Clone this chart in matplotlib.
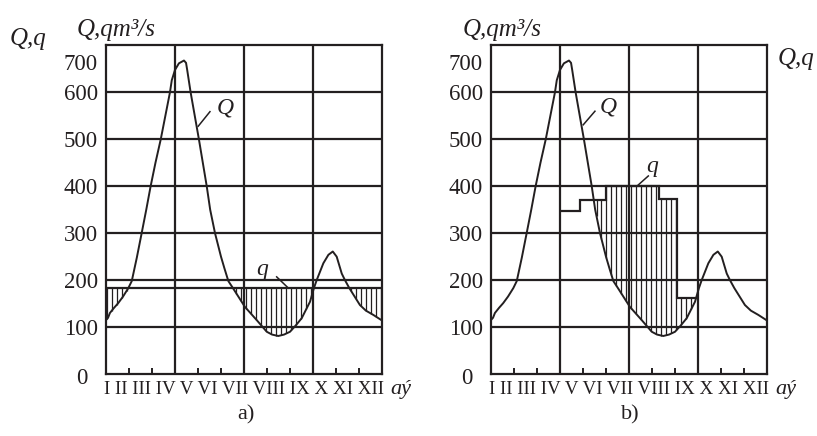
import numpy as np
import matplotlib
matplotlib.use("Agg")
import matplotlib.pyplot as plt
from matplotlib.transforms import offset_copy

# Hydrograph of river discharge Q (m^3/s); position in months from the start of the year
flow_month = [0.0, 0.09, 0.17, 0.35, 0.53, 0.74, 0.97, 1.12, 1.34, 1.55, 1.75, 1.94,
              2.15, 2.38, 2.58, 2.78, 2.86, 3.0, 3.17, 3.39, 3.48, 3.53, 3.68, 4.04,
              4.38, 4.53, 4.74, 5.0, 5.15, 5.32, 5.52, 6.04, 6.55, 6.99, 7.22, 7.49,
              7.74, 8.0, 8.26, 8.51, 8.87, 9.04, 9.16, 9.45, 9.67, 9.86, 10.03, 10.25,
              10.39, 10.58, 11.04, 11.3, 11.62, 12.0]
flow_value = [115, 120, 130, 141, 151, 165, 183, 198, 248, 300, 350, 400,
              450, 500, 550, 600, 626, 648, 662, 668, 663, 648, 600, 500,
              400, 350, 300, 250, 225, 198, 183, 143, 115, 90, 84, 81,
              84, 90, 104, 119, 154, 183, 200, 236, 254, 261, 250, 214,
              200, 183, 147, 135, 126, 114]

months = ["I", "II", "III", "IV", "V", "VI", "VII", "VIII", "IX", "X", "XI", "XII"]
y_values = [0, 100, 200, 300, 400, 500, 600, 700]

# a) constant withdrawal
uniform_draw = 182.6
# b) withdrawal varying by period
step_edges = [3.0, 3.87, 5.0, 7.3, 8.08, 8.95]
step_draw = [347, 370, 400, 372, 162]

INK = "#231f20"
W, H = 817, 436
PX = 72.0 / 100.0  # points per pixel

plt.rcParams["font.family"] = ["Liberation Serif", "DejaVu Serif"]

fig = plt.figure(figsize=(W / 100, H / 100), dpi=100)
fig.patch.set_facecolor("white")

AX_BOTTOM, AX_TOP = 374, 45.5
hatch_x = np.arange(0.03, 12, 0.217)
flow_at_hatch = np.interp(hatch_x, flow_month, flow_value)


def make_panel(left_px):
    ax = fig.add_axes([left_px / W, 1 - AX_BOTTOM / H, 276 / W, (AX_BOTTOM - AX_TOP) / H])
    ax.set_xlim(0, 12)
    ax.set_ylim(0, 700)
    for sp in ax.spines.values():
        sp.set_linewidth(1.6)
        sp.set_color(INK)
    for v in y_values[1:-1]:
        ax.axhline(v, color=INK, lw=1.6, zorder=1)
    for m in (3, 6, 9):
        ax.axvline(m, color=INK, lw=1.6, zorder=1)
    ax.set_xticks(range(13))
    ax.set_xticklabels([])
    ax.tick_params(axis="x", direction="in", length=6 * PX, width=1.4, color=INK)
    ax.set_yticks([])

    ytrans = ax.get_yaxis_transform()
    for v in y_values:
        dx, dy = -8, 0
        if v == 0:
            dx, dy = -19, -2
        elif v == 700:
            dy = -17
        tr = offset_copy(ytrans, fig=fig, x=dx * PX, y=dy * PX - 7.6 * PX, units="points")
        ax.text(0, v, str(v), transform=tr, ha="right", va="baseline",
                fontsize=16.5, color=INK)

    tr = offset_copy(ax.transAxes, fig=fig, x=0 * PX, y=-20 * PX, units="points")
    ax.text(0.5, 0, " ".join(months), transform=tr, ha="center", va="baseline",
            fontsize=13.7, color=INK)
    tr = offset_copy(ax.transAxes, fig=fig, x=8 * PX, y=-20 * PX, units="points")
    ax.text(1, 0, "aý", transform=tr, ha="left", va="baseline",
            fontsize=16, style="italic", color=INK)

    ax.plot(flow_month, flow_value, color=INK, lw=1.4, zorder=3,
            solid_joinstyle="round")
    return ax


# ---- panel a ----
axA = make_panel(106)
axA.hlines(uniform_draw, 0, 12, color=INK, lw=1.6, zorder=3)
mask = flow_at_hatch < uniform_draw
axA.vlines(hatch_x[mask], flow_at_hatch[mask], uniform_draw, color=INK, lw=0.9, zorder=2)
axA.plot([4.01, 4.52], [528, 559], color=INK, lw=1.1)
axA.text(5.17, 567, "Q", style="italic", fontsize=17, ha="center", va="center", color=INK)
axA.plot([7.42, 7.93], [207, 183], color=INK, lw=1.1)
axA.text(6.77, 222, "q", style="italic", fontsize=17, ha="center", va="center", color=INK)

# ---- panel b ----
axB = make_panel(491)
axB.stairs(step_draw, step_edges, baseline=None, color=INK, lw=1.6, zorder=3)
idx = np.searchsorted(step_edges, hatch_x, side="right") - 1
inside = (idx >= 0) & (idx < len(step_draw))
level = np.where(inside, np.array(step_draw)[np.clip(idx, 0, len(step_draw) - 1)], 0)
mask = inside & (level > flow_at_hatch)
axB.vlines(hatch_x[mask], flow_at_hatch[mask], level[mask], color=INK, lw=0.9, zorder=2)
axB.plot([4.01, 4.52], [531, 560], color=INK, lw=1.1)
axB.text(5.09, 570, "Q", style="italic", fontsize=17, ha="center", va="center", color=INK)
axB.plot([6.36, 6.84], [401, 422], color=INK, lw=1.1)
axB.text(6.99, 442, "q", style="italic", fontsize=17, ha="center", va="center", color=INK)

# ---- axis titles and captions ----
fig.text(10 / W, 1 - 45 / H, "Q,q", style="italic", fontsize=18, va="baseline", color=INK)
fig.text(77 / W, 1 - 36 / H, "Q,qm³/s", style="italic", fontsize=18, va="baseline", color=INK)
fig.text(463 / W, 1 - 36 / H, "Q,qm³/s", style="italic", fontsize=18, va="baseline", color=INK)
fig.text(778 / W, 1 - 65 / H, "Q,q", style="italic", fontsize=18, va="baseline", color=INK)
fig.text(246 / W, 1 - 415 / H, "a)", fontsize=16, ha="center", va="center", color=INK)
fig.text(630 / W, 1 - 415 / H, "b)", fontsize=16, ha="center", va="center", color=INK)

fig.savefig("out.png", dpi=100, facecolor="white")
